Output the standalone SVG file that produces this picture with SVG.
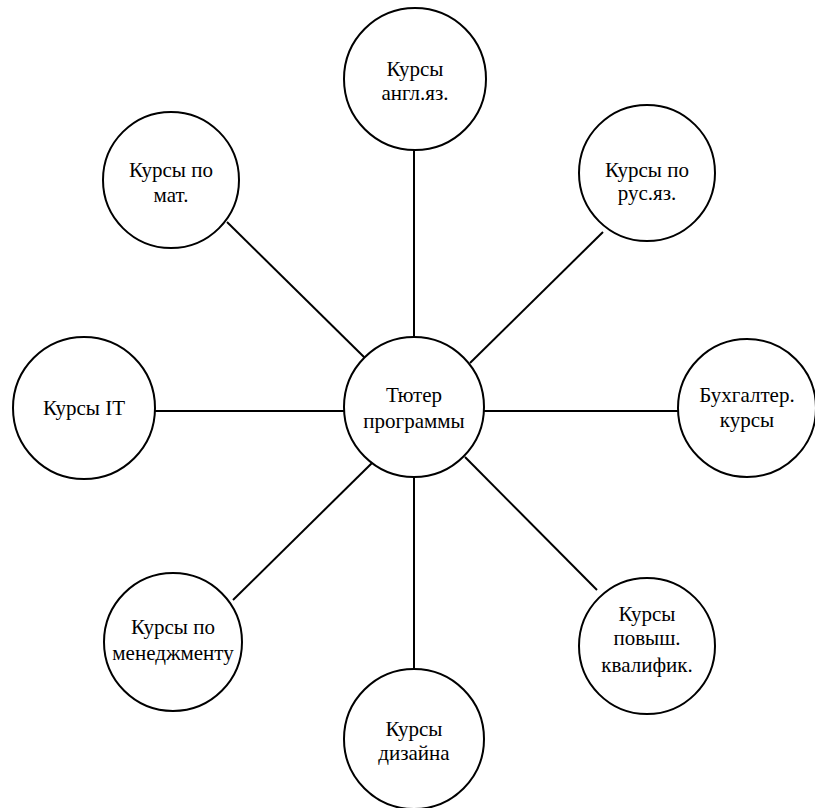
<svg xmlns="http://www.w3.org/2000/svg" width="815" height="808" viewBox="0 0 815 808">
<style>
.n{fill:#fff;stroke:#000;stroke-width:2}
.c{stroke:#000;stroke-width:2;fill:none}
</style>
<rect width="815" height="808" fill="#fff"/>
<g id="connectors">
<line class="c" x1="414" y1="150" x2="414" y2="337"/>
<line class="c" x1="414" y1="477" x2="414" y2="670"/>
<line class="c" x1="155" y1="411" x2="344" y2="411"/>
<line class="c" x1="484" y1="411" x2="678" y2="411"/>
<line class="c" x1="227" y1="222" x2="365" y2="358"/>
<line class="c" x1="603" y1="232" x2="470" y2="363"/>
<line class="c" x1="233" y1="600" x2="372" y2="463"/>
<line class="c" x1="597" y1="590" x2="465" y2="457"/>
</g>
<g font-family="Times New Roman, Liberation Serif, DejaVu Serif, serif" font-size="21" fill="#000" text-anchor="middle">
<g id="center"><circle class="n" cx="414" cy="407" r="70"/><text x="414" y="402">Тютер</text><text x="414" y="428">программы</text></g>
<g id="english"><circle class="n" cx="415" cy="79" r="71"/><text x="415" y="76">Курсы</text><text x="415" y="100">англ.яз.</text></g>
<g id="math"><circle class="n" cx="171" cy="180" r="68"/><text x="171" y="177">Курсы по</text><text x="171" y="202">мат.</text></g>
<g id="russian"><circle class="n" cx="647" cy="173" r="68"/><text x="647" y="177">Курсы по</text><text x="647" y="200">рус.яз.</text></g>
<g id="it"><circle class="n" cx="84" cy="408" r="71"/><text x="84" y="415">Курсы IT</text></g>
<g id="accounting"><circle class="n" cx="747" cy="408" r="69"/><text x="747" y="402">Бухгалтер.</text><text x="747" y="427">курсы</text></g>
<g id="management"><circle class="n" cx="173" cy="642" r="69"/><text x="173" y="634">Курсы по</text><text x="173" y="660">менеджменту</text></g>
<g id="design"><circle class="n" cx="414" cy="739" r="70"/><text x="414" y="736">Курсы</text><text x="414" y="760">дизайна</text></g>
<g id="qualification"><circle class="n" cx="647" cy="646" r="68"/><text x="647" y="621">Курсы</text><text x="647" y="645">повыш.</text><text x="647" y="672">квалифик.</text></g>
</g>
</svg>
